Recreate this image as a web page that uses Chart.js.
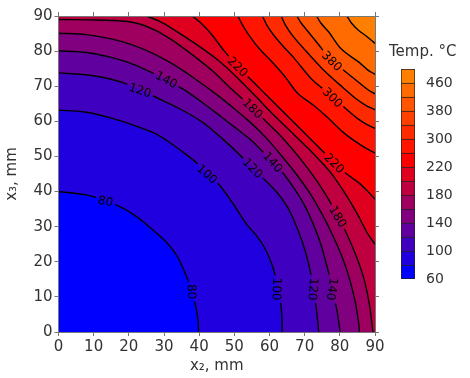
<!DOCTYPE html>
<html>
<head>
<meta charset="utf-8">
<script src="https://cdn.jsdelivr.net/npm/chart.js@4.4.0/dist/chart.umd.min.js"></script>
<style>
  html, body { margin: 0; padding: 0; background: #fff; }
  #wrap { position: relative; width: 470px; height: 378px; overflow: hidden; }
  #main { position: absolute; left: 0; top: 0; }
  #bar { position: absolute; left: 385px; top: 40px; }
  #cbTitle { position: absolute; left: 389px; top: 42px; font: 15px 'DejaVu Sans', Verdana, sans-serif; color: #333; white-space: nowrap; }
</style>
</head>
<body>
<div id="wrap">
  <canvas id="main" width="470" height="378"></canvas>
  <canvas id="bar" width="85" height="260"></canvas>
  <div id="cbTitle">Temp. °C</div>
</div>
<script>
// axis ticks (mm)
const AXIS_TICKS = [0, 10, 20, 30, 40, 50, 60, 70, 80, 90];

// contour levels (°C) = band edges of the colour bar
const LEVELS = [60, 80, 100, 120, 140, 160, 180, 200, 220, 260, 300, 340, 380, 420, 460, 500];
const CB_LABELS = ['60', '100', '140', '180', '220', '300', '380', '460'];
const BAND_COLORS = ['#0000ff', '#2000df', '#4000bf', '#60009f', '#800080', '#9f0060',
                     '#bf0040', '#df0020', '#ff0000', '#ff1500', '#ff2b00', '#ff4000',
                     '#ff5500', '#ff6b00', '#ff8000'];

// isotherms, [x2, x3] in mm
// low ones run from the left edge to the bottom edge
const C80 = [[0, 40], [8.5, 38.9], [17, 35.9], [22, 33], [25.5, 30.2], [28.5, 27.6], [31.2, 25], [33.8, 21.5],
             [36, 16.8], [37.8, 12], [39.1, 7], [39.7, 3], [39.8, 0]];
const C100 = [[0, 63.2], [8, 62.6], [15.1, 60.9], [21, 59], [27.4, 56.6], [31, 54.4], [34.5, 51.9], [38.8, 48.6],
              [42.3, 45], [45.8, 41.8], [49.6, 36.6], [53.4, 30.8], [56.4, 27.3], [58.6, 24], [60.6, 19.5],
              [62, 14.5], [63, 9.5], [63.5, 5], [63.6, 0]];
const C120 = [[0, 73.8], [8.5, 73.2], [15, 72], [20, 70.4], [27.4, 67], [35, 63.3], [41, 59.7], [45.5, 56],
              [49.6, 52.3], [55.3, 46.7], [59.1, 42.9], [62.5, 39.3], [65.2, 35.4], [67.3, 31], [69.4, 25.5],
              [71.1, 19.5], [72.5, 12.5], [73.4, 6], [74, 0]];
const C140 = [[0, 80.1], [8, 79.6], [15, 78.2], [20, 76.7], [25, 74.6], [30.7, 71.9], [36, 68.8], [41, 65.3],
              [46, 61.5], [50.5, 58], [54.7, 54.7], [58, 51.4], [61, 48.4], [64.2, 44.8], [67.2, 40.6], [70, 36],
              [72.4, 30.8], [74.6, 25], [76.4, 18.5], [77.9, 12.2], [79.2, 6], [80.1, 0]];
const C160 = [[0, 85.1], [8, 84.7], [15, 83.5], [21, 81.8], [27, 79.3], [33, 76], [39, 72], [45, 67.6],
              [50, 63.6], [54, 60.2], [57.2, 57.2], [60.2, 54], [63.6, 50], [67.6, 45], [71.5, 39.5], [75, 33.5],
              [78, 27.5], [80.8, 21], [82.8, 15], [84.4, 8.5], [85.3, 3], [85.6, 0]];
const C180 = [[0, 89], [8.5, 88.9], [16, 88.7], [22, 88], [27, 86.2], [32.2, 83.2], [38, 79], [44, 74.2],
              [49.5, 68.9], [55.3, 63.7], [59.5, 59.5], [63.8, 55.2], [68.8, 49.3], [73.6, 42.8], [77, 37.4],
              [79.5, 32.9], [82.4, 27], [84.9, 21], [86.9, 15], [88.3, 8.5], [89, 3.5], [89.4, 0]];
// high ones run from the top edge to the right edge
const C200 = [[25, 90], [28.5, 88.6], [32.2, 86.5], [38.8, 82.2], [45.4, 77.4], [51, 72.3], [56, 67.2],
              [61.5, 61.5], [67.2, 56], [72.3, 51], [77.4, 45.4], [81.8, 39], [85.2, 33.2], [87.8, 28.2], [90, 25]];
const C220 = [[38, 90], [40.5, 88], [43.5, 84.8], [47, 80.2], [51, 75.6], [57, 69.6], [63.3, 63.3], [69.6, 57],
              [75, 51.6], [78.5, 48.1], [82, 45], [85.5, 42.4], [88.2, 39.8], [90, 37.8]];
const C260 = [[51, 90], [52.3, 87.5], [54.2, 84.5], [57, 80.8], [61, 76.6], [64.5, 72.6], [68, 68], [72.6, 64.5],
              [76.6, 61], [80.8, 57], [84.5, 54.2], [87.5, 52.3], [90, 51]];
const C300 = [[58, 90], [59.2, 87.5], [61, 84.8], [63.5, 81.8], [67, 78], [72, 72], [78, 67], [81.8, 63.5],
              [84.8, 61], [87.5, 59.2], [90, 58]];
const C340 = [[63.3, 90], [64.5, 87.5], [66.5, 84.5], [69.5, 81], [75, 75], [81, 69.5], [84.5, 66.5],
              [87.5, 64.5], [90, 63.3]];
const C380 = [[67.8, 90], [69, 88], [71, 85.5], [74, 81.8], [77.5, 77.5], [81.8, 74], [85.5, 71], [88, 69],
              [90, 67.8]];
const C420 = [[73.4, 90], [74.6, 88], [76.8, 85.5], [80.5, 80.5], [85.5, 76.8], [88, 74.6], [90, 73.4]];
const C460 = [[82, 90], [83.3, 88], [85.2, 86], [87.5, 84.3], [90, 82.2]];

// in-line contour labels: [level, x2, x3, text angle in degrees]
const CONTOUR_LABELS = [
  [80, 13.4, 37.3, 12], [80, 37.9, 11.5, 88],
  [100, 42.3, 45, 42], [100, 62.1, 12.2, 92],
  [120, 23.2, 68.9, 18], [120, 55.3, 46.7, 45], [120, 72.5, 12.2, 95],
  [140, 30.7, 71.9, 28], [140, 61, 48.4, 48], [140, 77.9, 12.2, 98],
  [180, 55.3, 63.7, 45], [180, 79.5, 32.9, 60],
  [220, 51, 75.6, 45], [220, 78.5, 48.1, 45],
  [300, 78, 66.8, 45], [380, 77.8, 77.2, 45]
];

const LOW = [[80, C80], [100, C100], [120, C120], [140, C140], [160, C160], [180, C180]];
const HIGH = [[200, C200], [220, C220], [260, C260], [300, C300], [340, C340], [380, C380], [420, C420], [460, C460]];

const FONT_FAMILY = "'DejaVu Sans', Verdana, sans-serif";
const TEXT = '#333';
const FRAME = '#777';
const TENSION = 0.3;
const LABEL_FONT = '12px ' + FONT_FAMILY;

Chart.defaults.font.family = FONT_FAMILY;

const toXY = pts => pts.map(p => ({ x: p[0], y: p[1] }));

// filled bands: below the low isotherms, above the high ones
const datasets = [];
let paint = 0;
LOW.slice().reverse().forEach(([lv, pts]) => {
    datasets.push({
        label: 'fill-' + lv, data: toXY(pts), fill: 'start',
        backgroundColor: BAND_COLORS[LEVELS.indexOf(lv) - 1],
        borderWidth: 0, pointRadius: 0, tension: TENSION, order: 100 - paint++
    });
});
HIGH.forEach(([lv, pts]) => {
    datasets.push({
        label: 'fill-' + lv, data: toXY(pts), fill: 'end',
        backgroundColor: BAND_COLORS[LEVELS.indexOf(lv)],
        borderWidth: 0, pointRadius: 0, tension: TENSION, order: 100 - paint++
    });
});
// contour lines on top
LOW.concat(HIGH).forEach(([lv, pts]) => {
    datasets.push({
        label: 'line-' + lv, data: toXY(pts), fill: false,
        borderColor: '#000', borderWidth: 1.4, pointRadius: 0, tension: TENSION, order: 0
    });
});

function labelBox(chart, lab, w, h) {
    const cx = chart.scales.x.getPixelForValue(lab[1]);
    const cy = chart.scales.y.getPixelForValue(lab[2]);
    const a = lab[3] * Math.PI / 180;
    const c = Math.cos(a), s = Math.sin(a);
    return [[-w / 2, -h / 2], [w / 2, -h / 2], [w / 2, h / 2], [-w / 2, h / 2]]
        .map(([u, v]) => [cx + u * c - v * s, cy + u * s + v * c]);
}

// paint plot background with the 180-200 band
const plotBackground = {
    id: 'plotBackground',
    beforeDatasetsDraw(chart) {
        const { ctx, chartArea: a } = chart;
        ctx.save();
        ctx.fillStyle = BAND_COLORS[LEVELS.indexOf(180)];
        ctx.fillRect(a.left, a.top, a.width, a.height);
        ctx.restore();
    }
};

// cut gaps in the contour lines where their labels sit
const contourGaps = {
    id: 'contourGaps',
    beforeDatasetDraw(chart, args) {
        const name = chart.data.datasets[args.index].label;
        if (!name.startsWith('line-')) return;
        const lv = +name.slice(5);
        const { ctx, chartArea: a } = chart;
        ctx.save();
        ctx.font = LABEL_FONT;
        ctx.beginPath();
        ctx.rect(a.left - 5, a.top - 5, a.width + 10, a.height + 10);
        CONTOUR_LABELS.filter(l => l[0] === lv).forEach(l => {
            const w = ctx.measureText(String(l[0])).width + 5;
            const pts = labelBox(chart, l, w, 12);
            ctx.moveTo(pts[0][0], pts[0][1]);
            pts.slice(1).forEach(p => ctx.lineTo(p[0], p[1]));
            ctx.closePath();
        });
        ctx.clip('evenodd');
    },
    afterDatasetDraw(chart, args) {
        const name = chart.data.datasets[args.index].label;
        if (name.startsWith('line-')) chart.ctx.restore();
    },
    afterDatasetsDraw(chart) {
        const ctx = chart.ctx;
        ctx.save();
        ctx.font = LABEL_FONT;
        ctx.fillStyle = '#000';
        ctx.textAlign = 'center';
        ctx.textBaseline = 'middle';
        CONTOUR_LABELS.forEach(l => {
            ctx.save();
            ctx.translate(chart.scales.x.getPixelForValue(l[1]), chart.scales.y.getPixelForValue(l[2]));
            ctx.rotate(l[3] * Math.PI / 180);
            ctx.fillText(String(l[0]), 0, 1);
            ctx.restore();
        });
        ctx.restore();
    }
};

const setTicks = s => { s.ticks = AXIS_TICKS.map(v => ({ value: v })); };
const tickFont = { family: FONT_FAMILY, size: 15 };
const cbFont = { family: FONT_FAMILY, size: 14 };
const gridOpts = { drawOnChartArea: false, tickLength: 4, color: FRAME, z: 1 };
const borderOpts = { color: FRAME, z: 1 };

new Chart(document.getElementById('main'), {
    type: 'line',
    data: { datasets: datasets },
    options: {
        responsive: false,
        animation: false,
        events: [],
        layout: { padding: 0 },
        plugins: { legend: { display: false }, tooltip: { enabled: false } },
        scales: {
            x: {
                type: 'linear', position: 'bottom', min: 0, max: 90,
                afterBuildTicks: setTicks,
                ticks: { font: tickFont, color: TEXT, padding: 2, maxRotation: 0 },
                grid: gridOpts, border: borderOpts,
                title: { display: true, text: 'x₂, mm', font: tickFont, color: TEXT, padding: { top: 0, bottom: 3 } },
                afterFit: s => { s.height = 46; }
            },
            y: {
                type: 'linear', position: 'left', min: 0, max: 90,
                afterBuildTicks: setTicks,
                ticks: { font: tickFont, color: TEXT, padding: 2 },
                grid: gridOpts, border: borderOpts,
                title: { display: true, text: 'x₃, mm', font: tickFont, color: TEXT, padding: { top: 3, bottom: 0 } },
                afterFit: s => { s.width = 58.5; }
            },
            x2: {
                type: 'linear', axis: 'x', position: 'top', min: 0, max: 90,
                afterBuildTicks: setTicks,
                ticks: { display: false },
                grid: gridOpts, border: borderOpts,
                afterFit: s => { s.height = 16; }
            },
            y2: {
                type: 'linear', axis: 'y', position: 'right', min: 0, max: 90,
                afterBuildTicks: setTicks,
                ticks: { display: false },
                grid: gridOpts, border: borderOpts,
                afterFit: s => { s.width = 95; }
            }
        }
    },
    plugins: [plotBackground, contourGaps]
});

// colour bar: one stacked bar, one segment per band
new Chart(document.getElementById('bar'), {
    type: 'bar',
    data: {
        labels: [''],
        datasets: BAND_COLORS.map((c, i) => ({
            data: [1],
            backgroundColor: c,
            borderColor: '#222',
            borderWidth: { top: 1, left: 1, right: 1, bottom: i === 0 ? 1 : 0 },
            borderSkipped: false,
            barPercentage: 1,
            categoryPercentage: 1
        }))
    },
    options: {
        responsive: false,
        animation: false,
        events: [],
        layout: { padding: { left: 16, top: 29, bottom: 21, right: 0 } },
        plugins: { legend: { display: false }, tooltip: { enabled: false } },
        scales: {
            x: { display: false, stacked: true },
            y: {
                stacked: true, position: 'right', min: 0, max: BAND_COLORS.length,
                afterBuildTicks: s => { s.ticks = CB_LABELS.map((t, i) => ({ value: i * 2 })); },
                ticks: { callback: (v, i) => CB_LABELS[i], font: cbFont, color: TEXT, padding: 3 },
                grid: { display: false },
                border: { display: false },
                afterFit: s => { s.width = 55; }
            }
        }
    }
});
</script>
</body>
</html>
